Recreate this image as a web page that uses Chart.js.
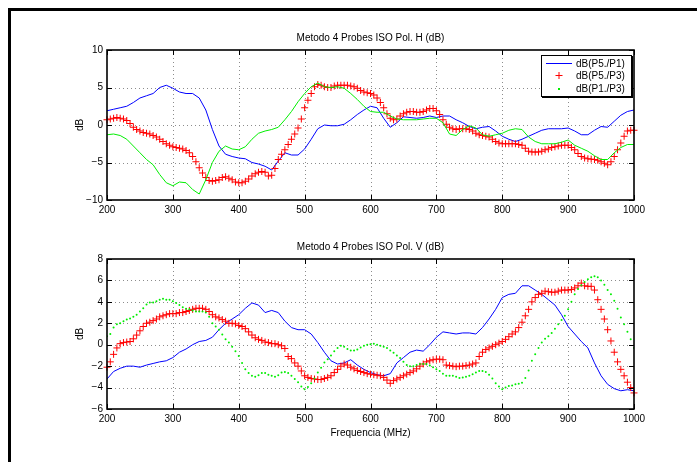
<!DOCTYPE html>
<html>
<head>
<meta charset="utf-8">
<title>Metodo 4 Probes ISO</title>
<script src="https://cdn.jsdelivr.net/npm/chart.js@4.4.1/dist/chart.umd.min.js"></script>
<style>
  body { margin: 0; background: #fff; width: 697px; height: 462px; overflow: hidden; position: relative; }
  #frameTop { position: absolute; left: 8px; top: 8px; width: 689px; height: 3px; background: #000; }
  #frameLeft { position: absolute; left: 8px; top: 8px; width: 3px; height: 454px; background: #000; }
  canvas { position: absolute; left: 0; }
</style>
</head>
<body>
<div id="frameTop"></div>
<div id="frameLeft"></div>
<canvas id="polH" width="697" height="230" style="top:0px"></canvas>
<canvas id="polV" width="697" height="232" style="top:230px"></canvas>
<script>
// measurement grid (MHz)
function range(a, b, step) { var r = []; for (var f = a; f <= b; f += step) r.push(f); return r; }
var freqFine = range(200, 1000, 5);     // markers
var freqCoarse = range(200, 1000, 10);  // solid lines

var xTicks = [200, 300, 400, 500, 600, 700, 800, 900, 1000];
var hYTicks = [-10, -5, 0, 5, 10];
var vYTicks = [-6, -4, -2, 0, 2, 4, 6, 8];
var seriesLabels = ['dB(P5./P1)', 'dB(P5./P3)', 'dB(P1./P3)'];
var titleH = 'Metodo 4 Probes ISO Pol. H (dB)';
var titleV = 'Metodo 4 Probes ISO Pol. V (dB)';

// Pol. H
var hP5P1 = [1.9, 2.1, 2.3, 2.5, 3.0, 3.6, 3.9, 4.2, 5.0, 5.3,
  4.9, 4.4, 4.2, 4.2, 3.6, 2.0, -0.6, -2.8, -3.9, -4.2,
  -4.4, -4.5, -5.0, -5.2, -5.5, -6.0, -4.8, -3.7, -4.0, -4.0,
  -3.2, -1.9, -0.5, 0.0, -0.1, -0.1, 0.1, 0.7, 1.4, 2.0,
  2.5, 2.3, 0.9, -0.3, 0.3, 1.1, 1.0, 0.9, 1.0, 1.2,
  1.0, 1.2, 1.2, 0.7, 0.3, -0.2, -0.5, -0.3, -0.2, -0.8,
  -1.5, -1.9, -2.2, -1.9, -1.5, -1.1, -0.7, -0.5, -0.5, -0.5,
  -0.4, -0.8, -1.3, -1.3, -0.7, -0.2, -0.3, 0.5, 1.3, 1.8,
  2.0];
var hP5P3 = [0.7, 0.8, 0.9, 1.0, 0.9, 0.8, 0.6, 0.2, -0.3, -0.6,
  -0.8, -1.0, -1.1, -1.2, -1.4, -1.6, -1.9, -2.2, -2.5, -2.7,
  -2.9, -3.0, -3.1, -3.2, -3.4, -3.7, -4.2, -4.9, -5.7, -6.4,
  -7.0, -7.4, -7.5, -7.4, -7.3, -7.0, -6.9, -7.1, -7.3, -7.6,
  -7.7, -7.7, -7.5, -7.2, -6.8, -6.5, -6.3, -6.2, -6.3, -6.8,
  -6.7, -5.8, -4.6, -3.9, -3.3, -2.6, -1.9, -1.2, -0.4, 0.8,
  2.3, 3.3, 4.2, 5.1, 5.4, 5.3, 5.1, 5.0, 5.0, 5.2,
  5.3, 5.3, 5.3, 5.3, 5.2, 5.1, 4.9, 4.6, 4.4, 4.3,
  4.2, 4.0, 3.6, 3.0, 2.3, 1.5, 0.9, 0.7, 0.8, 1.2,
  1.5, 1.7, 1.8, 1.8, 1.7, 1.7, 1.8, 2.0, 2.2, 2.2,
  1.9, 1.4, 0.7, 0.1, -0.3, -0.5, -0.6, -0.5, -0.5, -0.5,
  -0.6, -0.8, -1.1, -1.3, -1.4, -1.5, -1.6, -1.9, -2.2, -2.4,
  -2.5, -2.5, -2.5, -2.5, -2.5, -2.6, -2.7, -3.1, -3.5, -3.6,
  -3.6, -3.6, -3.5, -3.3, -3.2, -3.0, -2.9, -2.8, -2.7, -2.7,
  -2.7, -3.0, -3.3, -3.8, -4.2, -4.4, -4.5, -4.55, -4.6, -4.7,
  -4.9, -5.1, -5.3, -4.9, -4.2, -3.3, -2.4, -1.5, -0.8, -0.7,
  -0.7];
var hP1P3 = [-1.3, -1.2, -1.4, -1.9, -2.8, -3.7, -4.6, -5.3, -6.6, -7.7,
  -8.1, -7.6, -7.7, -8.6, -9.2, -7.3, -5.0, -3.5, -2.8, -3.2,
  -3.3, -2.9, -1.9, -1.1, -0.8, -0.6, -0.3, 0.7, 1.8, 3.1,
  4.2, 5.1, 5.6, 5.1, 5.0, 5.1, 4.9, 4.2, 3.4, 2.5,
  1.8, 1.7, 1.7, 1.2, 0.8, 0.7, 0.7, 0.7, 0.8, 0.9,
  0.9, 0.3, -1.2, -1.4, -0.6, -0.1, -0.4, -1.3, -1.5, -1.3,
  -1.1, -0.7, -0.5, -0.6, -1.6, -2.2, -2.5, -2.5, -2.5, -2.3,
  -2.0, -2.7, -3.1, -3.5, -4.1, -4.6, -4.6, -3.7, -3.0, -2.6,
  -2.6];

// Pol. V
var vP5P1 = [-3.2, -2.5, -2.2, -2.0, -2.0, -2.1, -1.9, -1.75, -1.6, -1.5,
  -1.2, -0.7, -0.4, 0.0, 0.3, 0.4, 0.7, 1.4, 2.0, 2.4,
  2.8, 3.4, 3.9, 3.7, 3.0, 3.2, 3.0, 2.2, 1.6, 1.4,
  1.4, 1.0, 0.2, -0.7, -1.5, -1.8, -1.7, -1.4, -1.9, -2.3,
  -2.6, -2.8, -2.9, -2.7, -1.7, -1.2, -0.7, -0.5, -0.6, 0.0,
  0.7, 1.2, 1.1, 1.0, 1.1, 1.1, 1.0, 1.6, 2.4, 3.3,
  4.4, 4.7, 4.8, 5.5, 5.5, 5.1, 4.7, 4.2, 3.7, 2.8,
  1.7, 1.0, 0.3, -0.3, -1.7, -2.9, -3.7, -4.1, -4.3, -4.2,
  -4.3];
var vP5P3 = [-2.1, -1.6, -0.9, -0.3, 0.1, 0.2, 0.25, 0.3, 0.55, 0.9,
  1.3, 1.7, 2.0, 2.1, 2.25, 2.4, 2.6, 2.7, 2.8, 2.9,
  2.9, 2.9, 3.0, 3.0, 3.1, 3.2, 3.3, 3.4, 3.4, 3.4,
  3.3, 3.1, 2.8, 2.6, 2.5, 2.35, 2.2, 2.0, 2.0, 1.95,
  1.8, 1.7, 1.5, 1.2, 0.9, 0.65, 0.5, 0.4, 0.25, 0.2,
  0.1, 0.1, 0.0, -0.1, -0.35, -1.1, -1.3, -1.7, -2.0, -2.45,
  -2.9, -3.05, -3.15, -3.2, -3.25, -3.25, -3.15, -3.05, -2.9, -2.6,
  -2.3, -2.0, -1.8, -1.9, -2.1, -2.25, -2.4, -2.5, -2.6, -2.7,
  -2.75, -2.8, -2.85, -2.9, -3.05, -3.3, -3.6, -3.35, -3.2, -3.05,
  -2.9, -2.75, -2.6, -2.45, -2.25, -2.0, -1.8, -1.6, -1.5, -1.4,
  -1.35, -1.35, -1.4, -1.9, -1.95, -2.0, -2.05, -2.0, -2.0, -1.95,
  -1.9, -1.8, -1.7, -1.1, -0.7, -0.45, -0.3, -0.15, 0.0, 0.15,
  0.3, 0.5, 0.75, 1.0, 1.2, 1.6, 2.1, 2.7, 3.3, 4.0,
  4.4, 4.7, 4.8, 5.0, 4.95, 4.9, 4.9, 5.0, 5.1, 5.1,
  5.1, 5.15, 5.3, 5.5, 5.75, 5.5, 5.45, 5.45, 5.1, 4.2,
  3.3, 2.4, 1.4, 0.35, -0.7, -1.6, -2.3, -2.9, -3.5, -4.0,
  -4.5];
var vP1P3 = [0.8, 1.0, 1.6, 1.9, 2.0, 2.2, 2.35, 2.45, 2.6, 2.8,
  3.1, 3.4, 3.75, 3.95, 3.95, 4.05, 4.2, 4.3, 4.2, 4.2,
  4.05, 3.9, 3.7, 3.5, 3.35, 3.3, 3.2, 3.1, 3.1, 3.1,
  3.0, 2.6, 2.0, 1.7, 1.4, 0.95, 0.5, 0.2, -0.2, -0.6,
  -1.05, -1.7, -2.3, -2.65, -2.9, -3.0, -2.85, -2.65, -2.65, -2.8,
  -2.9, -3.0, -2.85, -2.6, -2.55, -2.65, -2.9, -3.2, -3.5, -3.9,
  -4.15, -3.95, -3.6, -3.15, -2.6, -2.15, -1.65, -1.35, -1.0, -0.6,
  -0.3, -0.1, -0.2, -0.4, -0.55, -0.55, -0.45, -0.25, -0.1, 0.0,
  0.05, 0.1, 0.0, -0.1, -0.2, -0.3, -0.55, -0.75, -1.0, -1.25,
  -1.6, -1.9, -2.0, -2.0, -1.9, -1.8, -1.8, -1.8, -1.95, -2.1,
  -2.3, -2.45, -2.7, -2.9, -2.9, -2.9, -3.0, -3.1, -3.05, -3.0,
  -2.9, -2.75, -2.6, -2.45, -2.45, -2.55, -2.8, -3.15, -3.6, -3.9,
  -4.15, -4.0, -3.85, -3.8, -3.7, -3.65, -3.55, -3.1, -2.4, -1.5,
  -0.9, -0.3, 0.2, 0.55, 0.8, 1.1, 1.5, 1.9, 2.3, 2.7,
  3.3, 4.0, 4.7, 5.2, 5.55, 5.85, 6.1, 6.3, 6.4, 6.3,
  6.0, 5.6, 5.1, 4.7, 4.1, 3.35, 2.55, 1.9, 1.2, 0.5,
  -0.3];

var FONT = '"Liberation Sans", Arial, Helvetica, sans-serif';
var BLUE = '#0000ff', RED = '#ff0000', GREEN = '#00ee00';

function pts(xs, ys) {
  return ys.map(function(y, i) { return { x: xs[i], y: y }; });
}

function lineSet(label, xs, ys, color, order) {
  return { label: label, data: pts(xs, ys), showLine: true, borderColor: color, borderWidth: 1,
    pointRadius: 0, tension: 0, order: order };
}
function crossSet(label, xs, ys, order) {
  return { label: label, data: pts(xs, ys), showLine: false, pointStyle: 'cross', pointRadius: 3.5,
    borderColor: RED, pointBorderWidth: 1, clip: false, order: order };
}
function dotSet(label, xs, ys, order) {
  return { label: label, data: pts(xs, ys), showLine: false, pointStyle: 'circle', pointRadius: 1,
    backgroundColor: GREEN, borderColor: GREEN, pointBorderWidth: 0, order: order };
}

// matlab style box, dotted grid, inner ticks, labels, legend
var matlabAxes = {
  id: 'matlabAxes',
  beforeDatasetsDraw: function(chart) {
    var ctx = chart.ctx, a = chart.chartArea, xs = chart.scales.x, ys = chart.scales.y;
    ctx.save();
    ctx.strokeStyle = '#8c8c8c';
    ctx.lineWidth = 1;
    ctx.setLineDash([1, 3]);
    ctx.beginPath();
    xs.ticks.forEach(function(t) {
      var px = Math.round(xs.getPixelForValue(t.value)) + 0.5;
      if (px > a.left + 2 && px < a.right - 2) { ctx.moveTo(px, a.top); ctx.lineTo(px, a.bottom); }
    });
    ys.ticks.forEach(function(t) {
      var py = Math.round(ys.getPixelForValue(t.value)) + 0.5;
      if (py > a.top + 2 && py < a.bottom - 2) { ctx.moveTo(a.left, py); ctx.lineTo(a.right, py); }
    });
    ctx.stroke();
    ctx.restore();
  },
  afterDraw: function(chart, args, opts) {
    var ctx = chart.ctx, a = chart.chartArea, xs = chart.scales.x, ys = chart.scales.y;
    ctx.save();
    ctx.strokeStyle = '#000';
    ctx.lineWidth = 1;
    ctx.beginPath();
    xs.ticks.forEach(function(t) {
      var px = Math.round(xs.getPixelForValue(t.value)) + 0.5;
      ctx.moveTo(px, a.top); ctx.lineTo(px, a.top + 5);
      ctx.moveTo(px, a.bottom); ctx.lineTo(px, a.bottom - 5);
    });
    ys.ticks.forEach(function(t) {
      var py = Math.round(ys.getPixelForValue(t.value)) + 0.5;
      ctx.moveTo(a.left, py); ctx.lineTo(a.left + 5, py);
      ctx.moveTo(a.right, py); ctx.lineTo(a.right - 5, py);
    });
    ctx.stroke();
    ctx.lineWidth = 1.6;
    ctx.strokeRect(a.left, a.top, a.right - a.left, a.bottom - a.top);

    ctx.fillStyle = '#000';
    ctx.font = '10px ' + FONT;
    ctx.textAlign = 'center';
    ctx.textBaseline = 'middle';
    ctx.fillText(opts.title, (a.left + a.right) / 2, opts.titleY);
    if (opts.xLabel) ctx.fillText(opts.xLabel, (a.left + a.right) / 2, opts.xLabelY);
    ctx.save();
    ctx.translate(80, (a.top + a.bottom) / 2);
    ctx.rotate(-Math.PI / 2);
    ctx.fillText('dB', 0, 0);
    ctx.restore();

    if (opts.legend) {
      var lx = 541, ly = 55, lw = 90, lh = 41;
      ctx.fillStyle = '#fff';
      ctx.fillRect(lx, ly, lw, lh);
      ctx.lineWidth = 1;
      ctx.strokeStyle = '#000';
      ctx.strokeRect(lx + 0.5, ly + 0.5, lw, lh);
      ctx.lineWidth = 2;
      ctx.beginPath();
      ctx.moveTo(lx + lw + 1, ly + 1); ctx.lineTo(lx + lw + 1, ly + lh + 1); ctx.lineTo(lx + 1, ly + lh + 1);
      ctx.stroke();
      var rows = [63, 75, 88];
      ctx.lineWidth = 1;
      ctx.strokeStyle = BLUE;
      ctx.beginPath(); ctx.moveTo(546, rows[0] + 0.5); ctx.lineTo(572, rows[0] + 0.5); ctx.stroke();
      ctx.strokeStyle = RED;
      ctx.beginPath();
      ctx.moveTo(555.5, rows[1] + 0.5); ctx.lineTo(562.5, rows[1] + 0.5);
      ctx.moveTo(559, rows[1] - 3); ctx.lineTo(559, rows[1] + 4);
      ctx.stroke();
      ctx.fillStyle = GREEN;
      ctx.fillRect(558, rows[2], 2, 2);
      ctx.fillStyle = '#000';
      ctx.textAlign = 'left';
      seriesLabels.forEach(function(s, i) { ctx.fillText(s, 576, rows[i] + 1); });
    }
    ctx.restore();
  }
};

function makeChart(id, cfg) {
  return new Chart(document.getElementById(id), {
    type: 'scatter',
    data: { datasets: cfg.datasets },
    options: {
      responsive: false,
      animation: false,
      devicePixelRatio: 1,
      layout: { padding: { left: 0, right: 63, top: cfg.padTop, bottom: 0 } },
      plugins: {
        legend: { display: false },
        tooltip: { enabled: false },
        matlabAxes: cfg.axes
      },
      scales: {
        x: {
          type: 'linear', min: 200, max: 1000,
          afterBuildTicks: function(s) { s.ticks = xTicks.map(function(v) { return { value: v }; }); },
          afterFit: function(s) { s.height = cfg.xHeight; },
          grid: { display: false, drawTicks: false },
          border: { display: false },
          ticks: { padding: 4, color: '#000', maxRotation: 0, autoSkip: false, font: { size: 10, family: FONT },
            callback: function(v) { return String(v); } }
        },
        y: {
          type: 'linear', min: cfg.yTicks[0], max: cfg.yTicks[cfg.yTicks.length - 1],
          afterBuildTicks: function(s) { s.ticks = cfg.yTicks.map(function(v) { return { value: v }; }); },
          afterFit: function(s) { s.width = 107; },
          grid: { display: false, drawTicks: false },
          border: { display: false },
          ticks: { padding: 4, color: '#000', font: { size: 10, family: FONT },
            callback: function(v) { return String(v).replace('-', '\u2212'); } }
        }
      }
    },
    plugins: [matlabAxes]
  });
}

makeChart('polH', {
  padTop: 50, xHeight: 30, yTicks: hYTicks,
  axes: { title: titleH, titleY: 38, legend: true },
  datasets: [
    lineSet(seriesLabels[0], freqCoarse, hP5P1, BLUE, 2),
    crossSet(seriesLabels[1], freqFine, hP5P3, 1),
    lineSet(seriesLabels[2], freqCoarse, hP1P3, GREEN, 0)
  ]
});

makeChart('polV', {
  padTop: 29, xHeight: 53, yTicks: vYTicks,
  axes: { title: titleV, titleY: 17, xLabel: 'Frequencia (MHz)', xLabelY: 203 },
  datasets: [
    lineSet(seriesLabels[0], freqCoarse, vP5P1, BLUE, 2),
    crossSet(seriesLabels[1], freqFine, vP5P3, 1),
    dotSet(seriesLabels[2], freqFine, vP1P3, 0)
  ]
});
</script>
</body>
</html>
